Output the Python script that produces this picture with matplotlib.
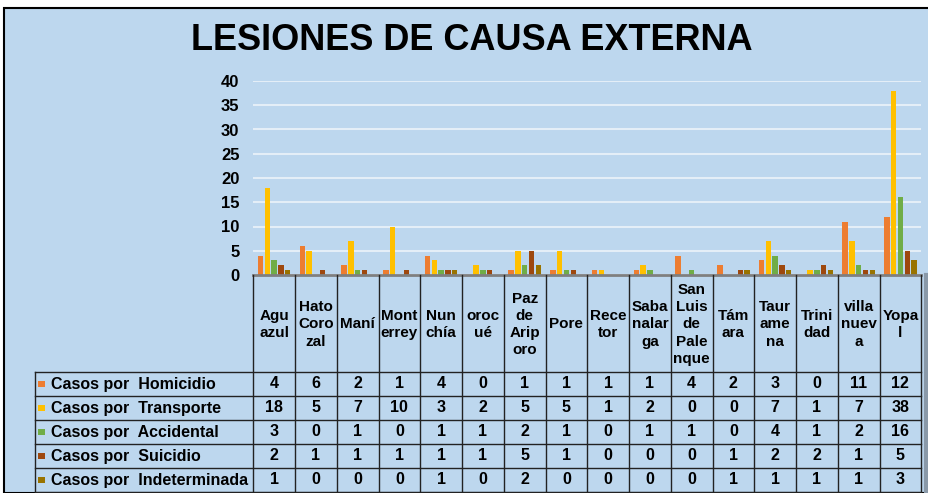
import numpy as np
import matplotlib.pyplot as plt
from matplotlib.patches import Rectangle

plt.rcParams["font.family"] = ["Liberation Sans", "DejaVu Sans"]

# labels as wrapped in the chart's data table
municipios = ["Agu\nazul", "Hato\nCoro\nzal", "Maní", "Mont\nerrey", "Nun\nchía",
              "oroc\nué", "Paz\nde\nArip\noro", "Pore", "Rece\ntor", "Saba\nnalar\nga",
              "San\nLuis\nde\nPale\nnque", "Tám\nara", "Taur\name\nna", "Trini\ndad",
              "villa\nnuev\na", "Yopa\nl"]
series = ["Casos por  Homicidio", "Casos por  Transporte", "Casos por  Accidental",
          "Casos por  Suicidio", "Casos por  Indeterminada"]
homicidio = [4, 6, 2, 1, 4, 0, 1, 1, 1, 1, 4, 2, 3, 0, 11, 12]
transporte = [18, 5, 7, 10, 3, 2, 5, 5, 1, 2, 0, 0, 7, 1, 7, 38]
accidental = [3, 0, 1, 0, 1, 1, 2, 1, 0, 1, 1, 0, 4, 1, 2, 16]
suicidio = [2, 1, 1, 1, 1, 1, 5, 1, 0, 0, 0, 1, 2, 2, 1, 5]
indeterminada = [1, 0, 0, 0, 1, 0, 2, 0, 0, 0, 0, 1, 1, 1, 1, 3]
valores = [homicidio, transporte, accidental, suicidio, indeterminada]
colores = ["#ED7D31", "#FFC000", "#70AD47", "#9E480E", "#997300"]
yticks = [0, 5, 10, 15, 20, 25, 30, 35, 40]

W, H = 929, 493
BG = "#BDD7EE"
AX_L, AX_R, AX_T, AX_B = 253.3, 921.3, 81, 275
TAB_L = 35
ROWS = [372, 396, 420, 444, 468, 492]

fig = plt.figure(figsize=(W / 100, H / 100), dpi=100, facecolor="white")
fig.patches.append(Rectangle((4 / W, 0), 1, 1 - 8 / H, transform=fig.transFigure,
                             facecolor=BG, edgecolor="black", lw=1.5, zorder=-10))

n = len(municipios)
ax = fig.add_axes([AX_L / W, 1 - AX_B / H, (AX_R - AX_L) / W, (AX_B - AX_T) / H])
ax.set_facecolor("none")
x = np.arange(n)
for k, (vals, c) in enumerate(zip(valores, colores)):
    ax.bar(x + (k - 2) * 0.163, vals, width=0.13, color=c, zorder=3)
ax.set_xlim(-0.5, n - 0.5)
ax.set_ylim(0, 40)
ax.set_yticks(yticks)
ax.set_yticklabels([str(t) for t in yticks], fontsize=12, fontweight="bold")
ax.tick_params(axis="y", length=0, pad=10)
ax.set_xticks([])
ax.grid(axis="y", color="#E4EEF7", lw=1.5, zorder=1)
for s in ["left", "right", "top"]:
    ax.spines[s].set_visible(False)
ax.spines["bottom"].set_color("#7F7F7F")
ax.spines["bottom"].set_linewidth(2)
ax.spines["bottom"].set_zorder(4)

# data table drawn in pixel coordinates
tb = fig.add_axes([0, 0, 1, 1])
tb.set_xlim(0, W)
tb.set_ylim(H, 0)
tb.axis("off")
tb.patch.set_alpha(0)

cw = (AX_R - AX_L) / n
bounds = [AX_L + i * cw for i in range(n + 1)]
for b in bounds:
    tb.plot([b, b], [AX_B, ROWS[-1]], color="#222222", lw=1)
tb.plot([TAB_L, TAB_L], [ROWS[0], ROWS[-1]], color="#222222", lw=1)
for r in ROWS:
    tb.plot([TAB_L, AX_R], [r, r], color="#222222", lw=1)
tb.plot([926, 926], [AX_B, H], color="#8A99A8", lw=3)

for i, name in enumerate(municipios):
    cx = bounds[i] + cw / 2
    tb.text(cx, (AX_B + ROWS[0]) / 2 + 1, name, ha="center", va="center",
            fontsize=11, fontweight="bold", linespacing=1.3)

for k, (lab, vals, c) in enumerate(zip(series, valores, colores)):
    cy = (ROWS[k] + ROWS[k + 1]) / 2
    tb.add_patch(Rectangle((38, cy - 3), 7, 6, facecolor=c, edgecolor="none"))
    tb.text(51, cy, lab, ha="left", va="center", fontsize=11.5, fontweight="bold")
    for i, v in enumerate(vals):
        tb.text(bounds[i] + cw / 2, cy, str(v), ha="center", va="center",
                fontsize=11.5, fontweight="bold")

fig.text(472 / W, 1 - 41 / H, "LESIONES DE CAUSA EXTERNA", ha="center", va="center",
         fontsize=26, fontweight="bold")

fig.savefig("out.png", dpi=100, facecolor=fig.get_facecolor())
